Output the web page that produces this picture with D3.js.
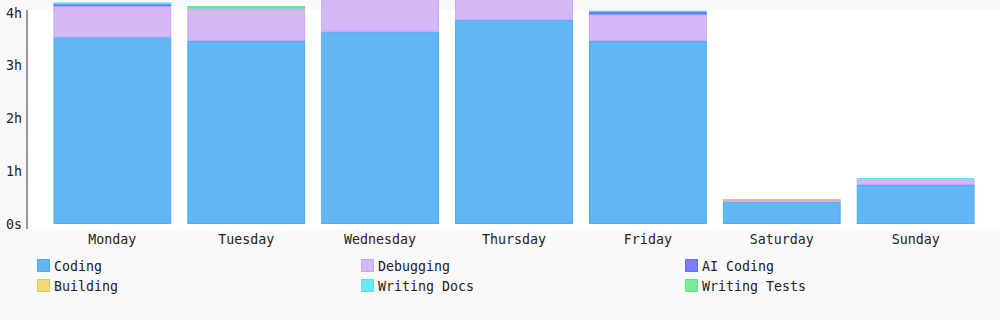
<!DOCTYPE html>
<html>
<head>
<meta charset="utf-8">
<script src="https://cdn.jsdelivr.net/npm/d3@7"></script>
<style>
  body { margin: 0; background: #f9f9f9; }
  svg { display: block; font-family: "DejaVu Sans Mono", monospace; }
</style>
</head>
<body>
<svg id="chart" width="1000" height="320"></svg>
<script>
// days shown along the bottom
var days = ["Monday", "Tuesday", "Wednesday", "Thursday", "Friday", "Saturday", "Sunday"];
var categories = ["Coding", "Debugging", "AI Coding", "Building", "Writing Docs", "Writing Tests"];

// hours per day, one array per category
var coding       = [3.54, 3.47, 3.65, 3.87, 3.47, 0.42, 0.74];
var debugging    = [0.59, 0.60, 0.85, 0.70, 0.50, 0.035, 0.10];
var aiCoding     = [0.035, 0, 0, 0, 0.05, 0, 0];
var building     = [0, 0.02, 0, 0, 0, 0.02, 0];
var writingDocs  = [0.035, 0.02, 0, 0, 0.025, 0, 0.03];
var writingTests = [0, 0.02, 0, 0, 0, 0, 0];

var yTicks = [0, 1, 2, 3, 4];
var yTickLabels = ["0s", "1h", "2h", "3h", "4h"];

var fills   = ["#61b6f3", "#d5b8f8", "#7b7cf8", "#efda74", "#6ee6f9", "#76ee99"];
var strokes = ["#4eacef", "#c9a5f6", "#6a6af4", "#e3c95a", "#57dff5", "#5fe487"];

var svg = d3.select("#chart");
var plot = {left: 28, right: 1000, top: 10, bottom: 229};
var fontSize = 13.3;

svg.append("rect")
    .attr("x", plot.left).attr("y", plot.top)
    .attr("width", plot.right - plot.left)
    .attr("height", plot.bottom - plot.top)
    .attr("fill", "#ffffff");

var x = d3.scaleBand()
    .domain(days)
    .range([plot.left, plot.right])
    .paddingInner(0.12)
    .paddingOuter(0.19);

var y = d3.scaleLinear()
    .domain([0, 4])
    .range([224, 13]);

var table = days.map(function (d, i) {
    return {
        day: d,
        "Coding": coding[i],
        "Debugging": debugging[i],
        "AI Coding": aiCoding[i],
        "Building": building[i],
        "Writing Docs": writingDocs[i],
        "Writing Tests": writingTests[i]
    };
});

var stacked = d3.stack().keys(categories)(table);

var layers = svg.append("g").selectAll("g")
    .data(stacked)
    .enter().append("g")
    .attr("fill", function (d, i) { return fills[i]; })
    .attr("stroke", function (d, i) { return strokes[i]; });

layers.selectAll("rect")
    .data(function (d) { return d; })
    .enter().append("rect")
    .filter(function (d) { return d[1] - d[0] > 0; })
    .attr("x", function (d) { return x(d.data.day) + 0.5; })
    .attr("width", x.bandwidth() - 1)
    .attr("y", function (d) { return y(d[1]) + 0.5; })
    .attr("height", function (d) { return Math.max(0.5, y(d[0]) - y(d[1]) - 1); })
    .attr("stroke-width", 1);

// y axis
svg.append("line")
    .attr("x1", 27).attr("x2", 27)
    .attr("y1", plot.top).attr("y2", plot.bottom)
    .attr("stroke", "#777").attr("stroke-width", 1.5);

svg.append("g").selectAll("text")
    .data(yTicks)
    .enter().append("text")
    .attr("x", 22)
    .attr("y", function (d) { return y(d) + 4.5; })
    .attr("text-anchor", "end")
    .attr("font-size", fontSize)
    .attr("fill", "#222")
    .text(function (d, i) { return yTickLabels[i]; });

// x labels
svg.append("g").selectAll("text")
    .data(days)
    .enter().append("text")
    .attr("x", function (d) { return x(d) + x.bandwidth() / 2; })
    .attr("y", 244)
    .attr("text-anchor", "middle")
    .attr("font-size", fontSize)
    .attr("fill", "#222")
    .text(function (d) { return d; });

// legend, three columns
var legend = svg.append("g").selectAll("g")
    .data(categories)
    .enter().append("g")
    .attr("transform", function (d, i) {
        return "translate(" + (37 + (i % 3) * 324) + "," + (259 + Math.floor(i / 3) * 20) + ")";
    });

legend.append("rect")
    .attr("x", 0.5).attr("y", 0.5)
    .attr("width", 12).attr("height", 12)
    .attr("fill", function (d, i) { return fills[i]; })
    .attr("stroke", function (d, i) { return strokes[i]; });

legend.append("text")
    .attr("x", 17).attr("y", 11.5)
    .attr("font-size", fontSize)
    .attr("fill", "#222")
    .text(function (d) { return d; });
</script>
</body>
</html>
